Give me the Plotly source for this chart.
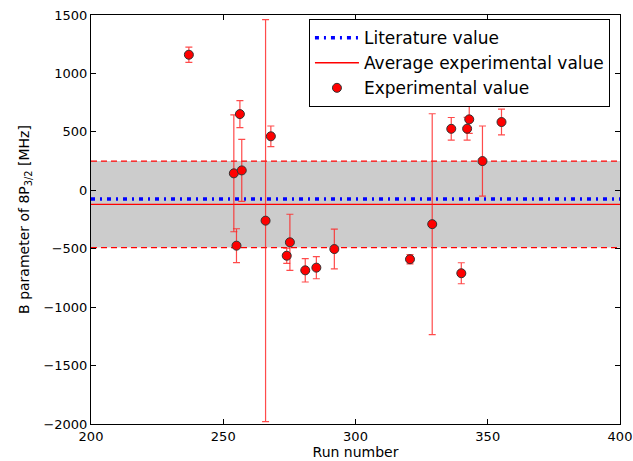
import plotly.graph_objects as go

# Measured B parameter of the 8P_3/2 state per run
runs = [237, 254, 255, 256.3, 257, 266, 268, 274, 275.2, 281, 285.2, 292,
        320.6, 329, 336.2, 340, 342.2, 343, 348, 355.2]
b_values = [1160, 145, -474, 652, 170, -260, 462, -560, -445, -685, -662, -503,
            -590, -290, 526, -710, 527, 607, 250, 584]
b_errors = [65, 500, 145, 115, 265, 1720, 88, 65, 240, 100, 95, 170,
            40, 945, 97, 90, 97, 120, 300, 110]

literature_value = -75
average_value = -120
average_uncertainty = 370

x_range = [200, 400]
y_range = [-2000, 1500]
x_ticks = [200, 250, 300, 350, 400]
y_ticks = [-2000, -1500, -1000, -500, 0, 500, 1000, 1500]

band_hi = average_value + average_uncertainty
band_lo = average_value - average_uncertainty

FONT = "DejaVu Sans"

fig = go.Figure()

# uncertainty band of the average
fig.add_trace(go.Scatter(x=x_range, y=[band_lo, band_lo], mode="lines",
                         line=dict(color="red", width=1.3, dash="6px,4px"),
                         showlegend=False, hoverinfo="skip"))
fig.add_trace(go.Scatter(x=x_range, y=[band_hi, band_hi], mode="lines",
                         line=dict(color="red", width=1.3, dash="6px,4px"),
                         fill="tonexty", fillcolor="#cccccc",
                         showlegend=False, hoverinfo="skip"))

fig.add_trace(go.Scatter(x=x_range, y=[literature_value] * 2, mode="lines",
                         name="Literature value",
                         line=dict(color="blue", width=3.5, dash="4px,5px,2px,5px")))
fig.add_trace(go.Scatter(x=x_range, y=[average_value] * 2, mode="lines",
                         name="Average experimental value",
                         line=dict(color="red", width=1.3)))

fig.add_trace(go.Scatter(
    x=runs, y=b_values, mode="markers", name="Experimental value",
    marker=dict(color="red", size=9, line=dict(color="#333333", width=1)),
    error_y=dict(type="data", array=b_errors, visible=True,
                 color="rgba(255,30,30,0.8)", thickness=1.2, width=3.5),
))

axis_common = dict(
    showgrid=False, zeroline=False, showline=True, linecolor="black",
    linewidth=1, mirror="ticks", ticks="inside", ticklen=5, tickwidth=1,
    tickcolor="black", tickfont=dict(family=FONT, size=13, color="black"),
    automargin=False, ticklabeloverflow="allow",
)

fig.update_xaxes(range=x_range, tickvals=x_ticks, **axis_common,
                 title=dict(text="Run number", standoff=2,
                            font=dict(family=FONT, size=14, color="black")))
fig.update_yaxes(range=y_range, tickvals=y_ticks, **axis_common,
                 title=dict(text="B parameter of 8P<sub>3/2</sub> [MHz]", standoff=10,
                            font=dict(family=FONT, size=14, color="black")))

fig.update_layout(
    width=633, height=461,
    margin=dict(l=91, r=13, t=15, b=37),
    plot_bgcolor="white", paper_bgcolor="white",
    font=dict(family=FONT, color="black"),
    legend=dict(x=0.412, y=0.99, xanchor="left", yanchor="top",
                bgcolor="white", bordercolor="black", borderwidth=1,
                font=dict(family=FONT, size=17, color="black"),
                itemwidth=44,
                traceorder="normal", tracegroupgap=0),
)

fig.write_html("out.html")
